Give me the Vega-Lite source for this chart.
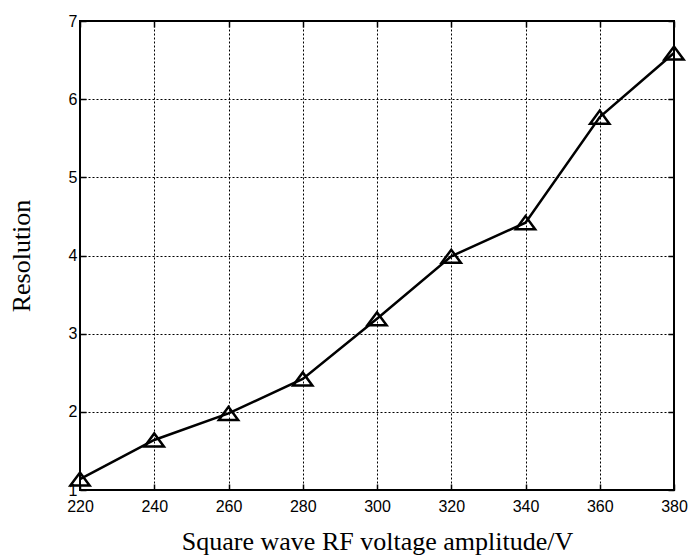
{
  "$schema": "https://vega.github.io/schema/vega-lite/v6.json",
  "width": 594,
  "height": 469,
  "autosize": "none",
  "padding": {"left": 80, "top": 21, "right": 16, "bottom": 69},
  "background": "white",
  "config": {
    "view": {"stroke": "black", "strokeWidth": 2},
    "axis": {
      "domain": false,
      "grid": true,
      "gridColor": "black",
      "gridOpacity": 1,
      "gridWidth": 1,
      "gridDash": [2, 2],
      "ticks": true,
      "tickColor": "black",
      "tickWidth": 1.5,
      "tickSize": -6,
      "labelFlush": false,
      "labelOverlap": false,
      "labelFont": "Liberation Sans",
      "labelFontSize": 16,
      "labelColor": "black",
      "titleFont": "Liberation Serif",
      "titleFontSize": 26,
      "titleFontWeight": "normal",
      "titleColor": "black"
    }
  },
  "data": {
    "values": [
      {"voltage": 220, "resolution": 1.14},
      {"voltage": 240, "resolution": 1.64},
      {"voltage": 260, "resolution": 1.98},
      {"voltage": 280, "resolution": 2.42},
      {"voltage": 300, "resolution": 3.19},
      {"voltage": 320, "resolution": 3.99},
      {"voltage": 340, "resolution": 4.42},
      {"voltage": 360, "resolution": 5.77},
      {"voltage": 380, "resolution": 6.59}
    ]
  },
  "layer": [
    {
      "mark": {"type": "line", "color": "black", "strokeWidth": 2.5},
      "encoding": {
        "x": {
          "field": "voltage",
          "type": "quantitative",
          "scale": {"domain": [220, 380], "nice": false, "zero": false},
          "axis": {
            "orient": "bottom",
            "title": "Square wave RF voltage amplitude/V",
            "values": [220, 240, 260, 280, 300, 320, 340, 360, 380],
            "labelPadding": 14,
            "titlePadding": 14
          }
        },
        "y": {
          "field": "resolution",
          "type": "quantitative",
          "scale": {"domain": [1, 7], "nice": false, "zero": false},
          "axis": {
            "orient": "left",
            "title": "Resolution",
            "values": [1, 2, 3, 4, 5, 6, 7],
            "labelPadding": 9,
            "titlePadding": 34
          }
        }
      }
    },
    {
      "mark": {
        "type": "point",
        "shape": "M-1,0.68L0,-0.68L1,0.68Z",
        "filled": false,
        "stroke": "black",
        "strokeWidth": 2.5,
        "size": 370,
        "opacity": 1
      },
      "encoding": {
        "x": {
          "field": "voltage",
          "type": "quantitative",
          "scale": {"domain": [220, 380], "nice": false, "zero": false},
          "axis": {"orient": "top", "grid": false, "labels": false, "title": null,
                   "values": [220, 240, 260, 280, 300, 320, 340, 360, 380]}
        },
        "y": {
          "field": "resolution",
          "type": "quantitative",
          "scale": {"domain": [1, 7], "nice": false, "zero": false},
          "axis": {"orient": "right", "grid": false, "labels": false, "title": null,
                   "values": [1, 2, 3, 4, 5, 6, 7]}
        }
      }
    }
  ],
  "resolve": {"axis": {"x": "independent", "y": "independent"}}
}
